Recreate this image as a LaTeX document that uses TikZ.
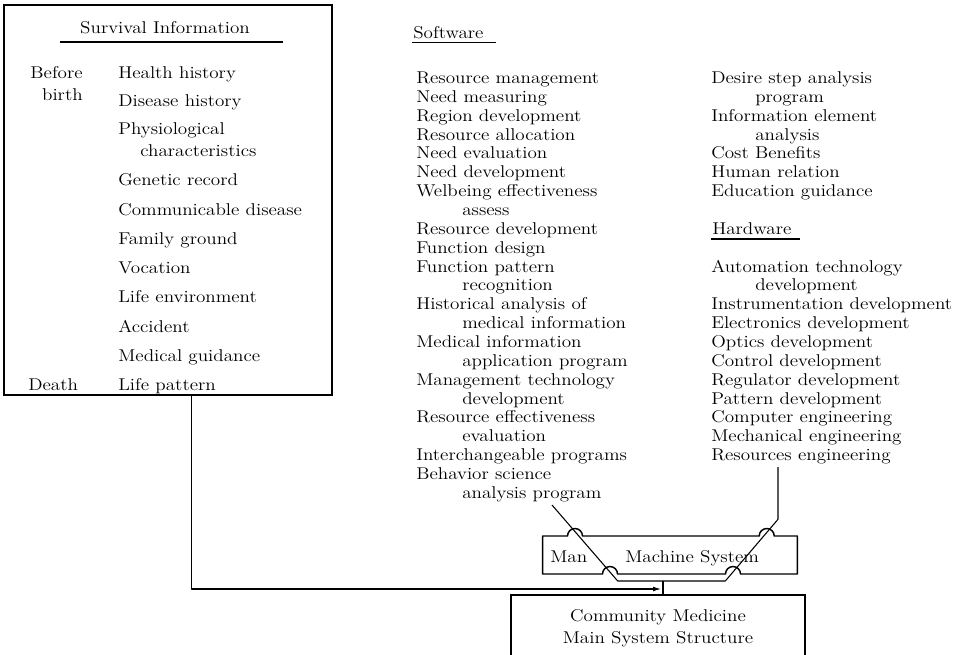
\documentclass[tikz,border=0pt]{standalone}
\usepackage{fontspec}
\usetikzlibrary{arrows.meta}
\begin{document}
\begin{tikzpicture}[x=0.75pt,y=-0.75pt,
  itemtext/.style={anchor=base west,inner sep=0pt,font=\fontsize{12.8}{15}\selectfont,xscale=1.12},
  boxline/.style={draw,line width=1.1pt,inner sep=0pt},
  conn/.style={line width=0.8pt,line join=round},
  rule/.style={line width=0.8pt}]
\useasboundingbox (0,0) rectangle (963,654);

% ---- Survival information panel ----
\node[boxline,line width=1.3pt,minimum width=246pt,minimum height=292.5pt] (surv) at (168,200) {};
\node[itemtext,anchor=base] (survtitle) at (165,33.5) {Survival Information};
\draw[rule] (60,42) -- (283,42);
\node[itemtext,anchor=base east] (before) at (83,78.5) {Before};
\node[itemtext,anchor=base east] (birth) at (83,100.5) {birth};
\node[itemtext] (death) at (28,390.5) {Death};
\foreach \n/\y/\s in {health/78.5/Health history,disease/106.5/Disease history,
  physio/134.5/Physiological,genetic/185.5/Genetic record,
  commun/215.5/Communicable disease,family/244.5/Family ground,
  vocation/273.5/Vocation,lifeenv/302.5/Life environment,
  accident/332.5/Accident,medical/361.5/Medical guidance,
  lifepat/390.5/Life pattern}
  \node[itemtext] (sv-\n) at (118,\y) {\s};
\node[itemtext] (sv-charac) at (140,156.5) {characteristics};

% ---- Software list ----
\node[itemtext] (softhead) at (413,38) {Software};
\draw[rule] (412,42.5) -- (496,42.5);
\foreach \i/\s in {0/Resource management,1/Need measuring,2/Region development,
  3/Resource allocation,4/Need evaluation,5/Need development,
  6/Welbeing effectiveness,8/Resource development,9/Function design,
  10/Function pattern,12/Historical analysis of,14/Medical information,
  16/Management technology,18/Resource effectiveness,
  20/Interchangeable programs,21/Behavior science}
  \node[itemtext] (sw-\i) at (416,{83.5+18.86*\i}) {\s};
\foreach \i/\s in {7/assess,11/recognition,13/medical information,
  15/application program,17/development,19/evaluation,22/analysis program}
  \node[itemtext] (sw-\i) at (462,{83.5+18.86*\i}) {\s};

% ---- Software (continued) and hardware list ----
\foreach \i/\s in {0/Desire step analysis,2/Information element,4/Cost Benefits,
  5/Human relation,6/Education guidance,10/Automation technology,
  12/Instrumentation development,13/Electronics development,
  14/Optics development,15/Control development,16/Regulator development,
  17/Pattern development,18/Computer engineering,19/Mechanical engineering,
  20/Resources engineering}
  \node[itemtext] (hw-\i) at (711,{83.5+18.86*\i}) {\s};
\foreach \i/\s in {1/program,3/analysis,11/development}
  \node[itemtext] (hw-\i) at (755,{83.5+18.86*\i}) {\s};
\node[itemtext] (hardhead) at (712,{83.5+18.86*8}) {Hardware};
\draw[rule] (711,239) -- (800,239);

% ---- Man machine system plug ----
\draw[line width=1.1pt,line join=round]
  (542.7,536) -- (567.5,536) arc[start angle=180,end angle=360,radius=7.5]
  -- (759.2,536) arc[start angle=180,end angle=360,radius=7.5]
  -- (797.3,536) -- (797.3,574)
  -- (740.5,574) arc[start angle=360,end angle=180,radius=7.5]
  -- (617.5,574) arc[start angle=360,end angle=180,radius=7.5]
  -- (542.7,574) -- cycle;
\node[itemtext] (man) at (550,562) {Man};
\node[itemtext] (mach) at (625,562) {Machine System};

% ---- Community medicine box ----
\node[boxline,minimum width=220.5pt,minimum height=52.5pt] (cm) at (658,630) {};
\node[itemtext,anchor=base] (cm1) at (658,621.5) {Community Medicine};
\node[itemtext,anchor=base] (cm2) at (658,643.5) {Main System Structure};

% ---- Connectors ----
\coordinate (a0) at (552,505);
\coordinate (ul) at (617.7,581);
\coordinate (ur) at (725.3,581);
\coordinate (bk) at (778,519.3);
\coordinate (b0) at (778,467);
\coordinate (join) at (663,581);
\coordinate (tip) at (661,589);
\draw[conn] (a0) -- (ul) -- (ur) -- (bk) -- (b0);
\draw[conn] (join) -- (join |- cm.north);
\draw[conn,-{Latex[length=6pt,width=3.6pt]}] (surv.south west) ++(188,0) coordinate (sdrop) |- (tip);
\end{tikzpicture}
\end{document}
